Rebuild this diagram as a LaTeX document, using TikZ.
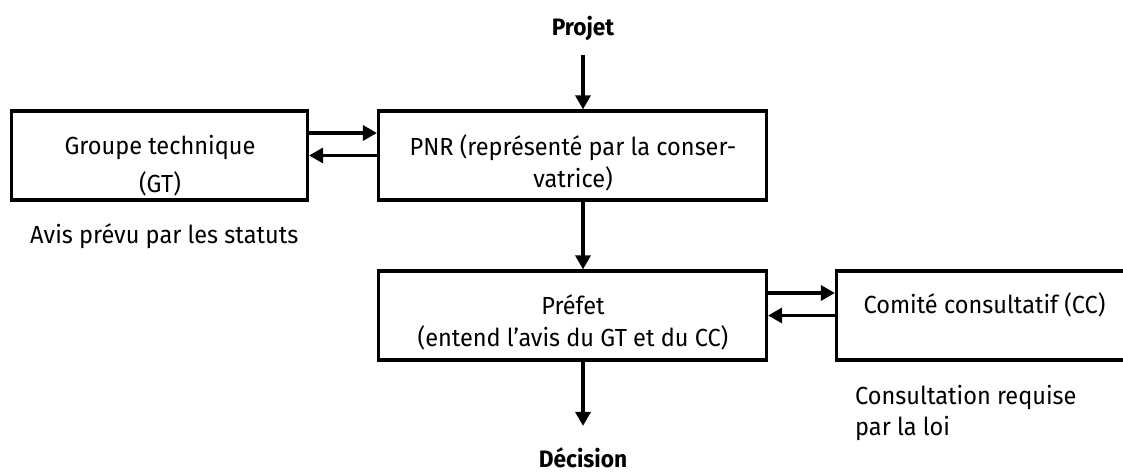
\documentclass[tikz,border=0pt]{standalone}
\usepackage{fontspec}
\setmainfont{Fira Sans}[FakeStretch=0.953]
\usetikzlibrary{arrows.meta}

\tikzset{
  boite/.style={draw=black, line width=3.2pt, minimum height=89pt, inner sep=0pt},
  texte/.style={font=\fontsize{24.7}{32}\selectfont, align=center, inner sep=0pt},
  note/.style={font=\fontsize{24.7}{31}\selectfont, align=left, inner sep=0pt},
  titre/.style={font=\fontsize{23.8}{30}\selectfont\bfseries, inner sep=0pt},
  fleche/.style={line width=3.2pt, -{Triangle[length=14pt,width=15pt]}}
}

\begin{document}
\begin{tikzpicture}[x=1pt,y=1pt]
%\draw[step=50,gray,very thin] (0,0) grid (1123,473); %background grid
\useasboundingbox (0,0) rectangle (1123,473);

\node[boite, minimum width=296pt] (gt)     at (159.5,317.5) {};
\node[boite, minimum width=388pt] (pnr)    at (572.5,317.5) {};
\node[boite, minimum width=388pt] (prefet) at (572.5,157.5) {};
\node[boite, minimum width=291.5pt] (cc)   at (982.25,157.5) {};

\node[texte] (gttxt)     at (160,307.5) {Groupe technique\\[5.5pt](GT)};
\node[texte] (pnrtxt)    at (573,310.5) {PNR (représenté par la conser-\\vatrice)};
\node[texte] (prefettxt) at (573,151)   {Préfet\\(entend l’avis du GT et du CC)};
\node[texte, anchor=base] (cctxt) at (984.5,159) {Comité consultatif (CC)};

\node[titre, anchor=base] (projet)   at (583,437) {Projet};
\node[titre, anchor=base] (decision) at (583,5)   {Décision};

\node[note, anchor=base west] (avis) at (30,229.5) {Avis prévu par les statuts};
\node[note, anchor=north west] (consult) at (855,88) {Consultation requise\\par la loi};

\draw[fleche] (projet.base) ++(0,-19) -- (projet.base |- pnr.north);
\draw[fleche] (pnr.south -| projet) -- (prefet.north -| projet);
\draw[fleche] (prefet.south -| decision) -- ([yshift=22pt]decision.north);

\draw[fleche] ([yshift=22.5pt]gt.east) -- ([yshift=22.5pt]gt.east -| pnr.west);
\draw[fleche] (pnr.west) -- (gt.east);
\draw[fleche] ([yshift=22.5pt]prefet.east) -- ([yshift=22.5pt]prefet.east -| cc.west);
\draw[fleche] (cc.west) -- (prefet.east);

\end{tikzpicture}
\end{document}
